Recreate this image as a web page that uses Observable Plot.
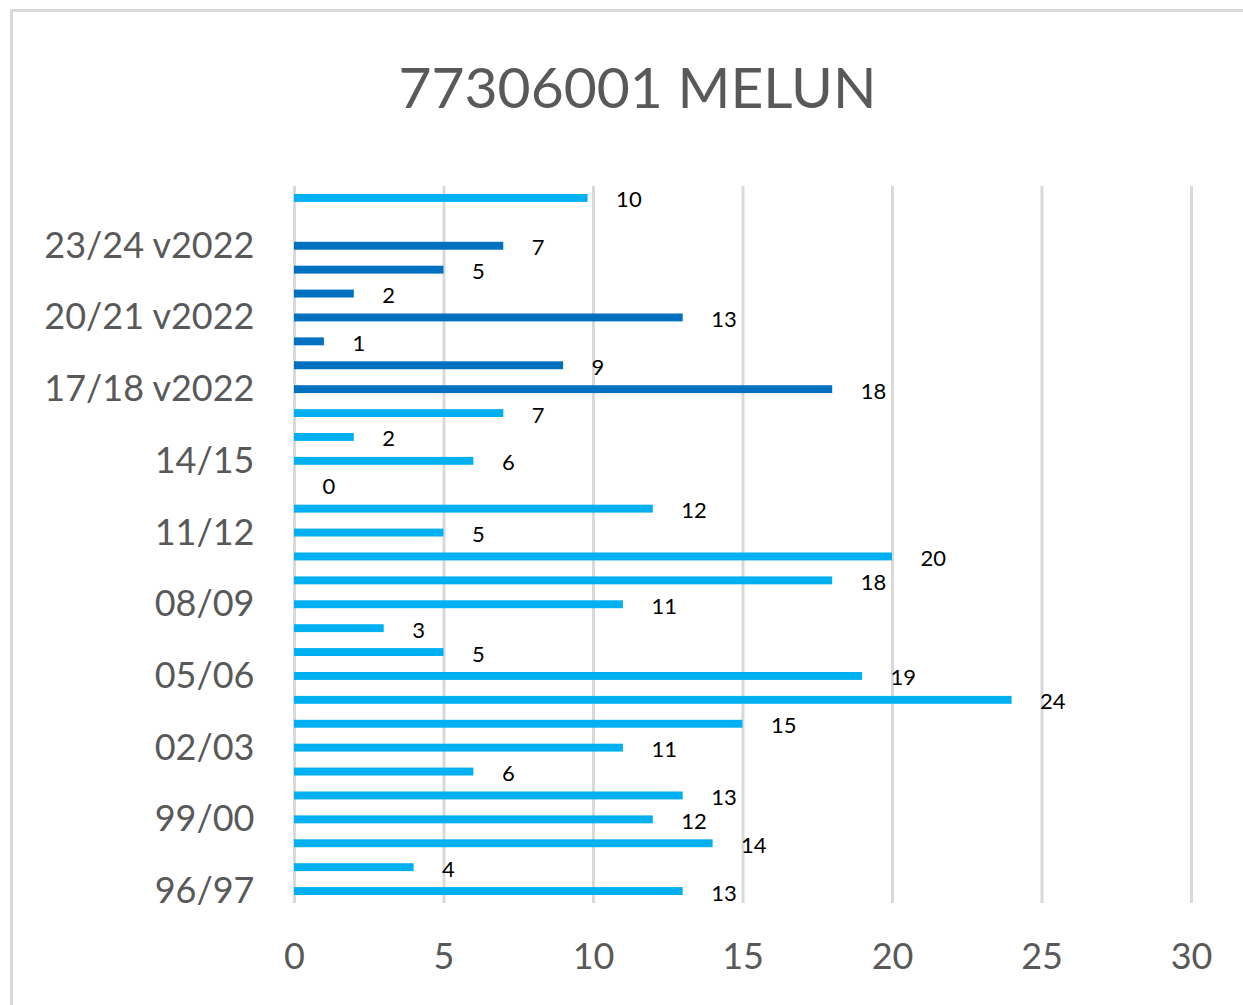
<!DOCTYPE html>
<html>
<head>
<meta charset="utf-8">
<script src="https://cdn.jsdelivr.net/npm/d3@7"></script>
<script src="https://cdn.jsdelivr.net/npm/@observablehq/plot@0.6"></script>
<style>
  html, body { margin: 0; padding: 0; background: #fff; }
  #wrap { position: relative; width: 1243px; height: 1005px; overflow: hidden; font-family: Lato, sans-serif; }
  #frame { position: absolute; left: 10px; top: 9px; width: 1300px; height: 1100px; border: 3px solid #D9D9D9; box-sizing: border-box; }
  #title { position: absolute; left: 0; width: 1275px; top: 46px; text-align: center; font-size: 57px; color: #595959; line-height: 80px; }
  #chart { position: absolute; left: 0; top: 0; }
</style>
</head>
<body>
<div id="wrap">
  <div id="frame"></div>
  <div id="title">77306001 MELUN</div>
  <div id="chart"></div>
</div>
<script>
const categories = ["96/97","97/98","98/99","99/00","00/01","01/02","02/03","03/04","04/05","05/06",
  "06/07","07/08","08/09","09/10","10/11","11/12","12/13","13/14","14/15","15/16","16/17",
  "17/18 v2022","18/19 v2022","19/20 v2022","20/21 v2022","21/22 v2022","22/23 v2022","23/24 v2022",
  " ","Moyenne"];
const values = [13,4,14,12,13,6,11,15,24,19,5,3,11,18,20,5,12,0,6,2,7,18,9,1,13,2,5,7,null,9.82];
const series = categories.map(c => c.includes("v2022") ? "v2022" : "avant");
const yTickLabels = ["96/97","99/00","02/03","05/06","08/09","11/12","14/15","17/18 v2022","20/21 v2022","23/24 v2022"];
const xTicks = [0,5,10,15,20,25,30];

const data = categories.map((c, i) => ({cat: c, value: values[i], series: series[i]}))
  .filter(d => d.value != null);

const chart = Plot.plot({
  width: 1243,
  height: 1005,
  marginLeft: 294,
  marginRight: 52,
  marginTop: 186,
  marginBottom: 102,
  style: {fontFamily: "Lato, sans-serif", background: "transparent", overflow: "visible"},
  x: {domain: [0, 30]},
  y: {domain: categories.slice().reverse(), paddingInner: 0, paddingOuter: 0, round: false},
  color: {domain: ["avant", "v2022"], range: ["#00B0F0", "#0070C0"]},
  marks: [
    Plot.gridX(xTicks, {stroke: "#D9D9D9", strokeWidth: 3, strokeOpacity: 1}),
    Plot.barX(data, {x: "value", y: "cat", fill: "series", insetTop: 8, insetBottom: 8}),
    Plot.text(data, {x: "value", y: "cat", text: d => String(Math.round(d.value)), dx: 28, dy: 2,
      textAnchor: "start", fontSize: 22, fill: "#000"}),
    Plot.axisX({ticks: xTicks, tickSize: 0, tickPadding: 40, fontSize: 36, fill: "#595959", label: null}),
    Plot.axisY({ticks: yTickLabels, tickSize: 0, tickPadding: 40, fontSize: 36, fill: "#595959", label: null})
  ]
});
document.getElementById("chart").appendChild(chart);
</script>
</body>
</html>
